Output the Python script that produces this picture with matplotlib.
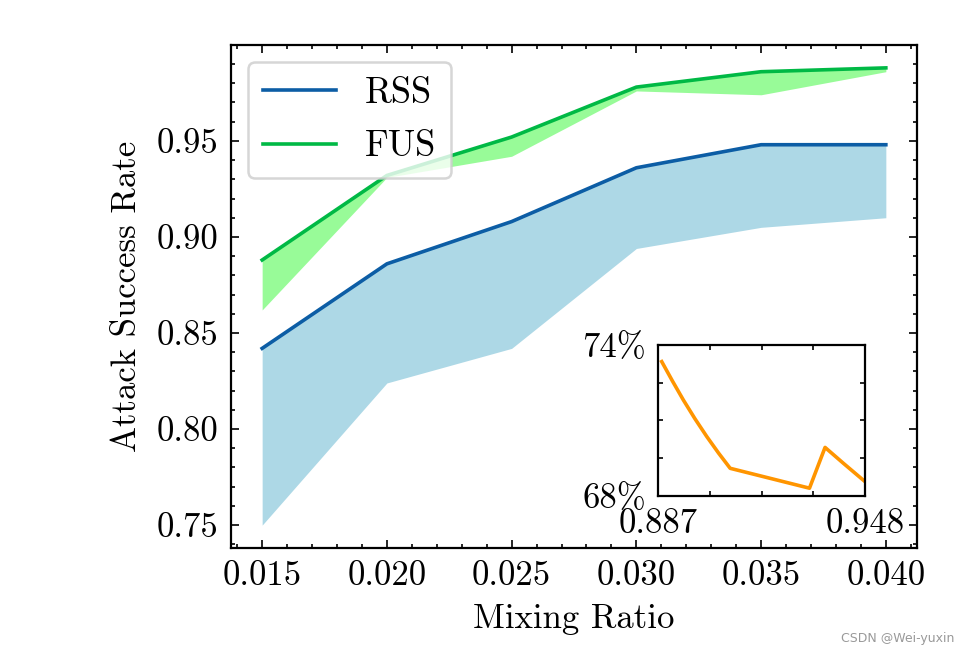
import numpy as np
import matplotlib
matplotlib.use("Agg")
import matplotlib.pyplot as plt
from matplotlib.ticker import MultipleLocator, FormatStrFormatter, FixedLocator, FixedFormatter

# ---- data ----
mixing_ratio = [0.015, 0.020, 0.025, 0.030, 0.035, 0.040]
rss_mean = [0.842, 0.886, 0.908, 0.936, 0.948, 0.948]
rss_low = [0.750, 0.824, 0.842, 0.894, 0.905, 0.910]
fus_mean = [0.888, 0.932, 0.952, 0.978, 0.986, 0.988]
fus_low = [0.862, 0.931, 0.942, 0.976, 0.974, 0.986]

inset_x = [0.888, 0.8912, 0.8944, 0.8978, 0.9013, 0.9048, 0.9082, 0.9316, 0.9362, 0.9416, 0.948]
inset_y = [0.7334, 0.7256, 0.7181, 0.7107, 0.7036, 0.6970, 0.6910, 0.6831, 0.6993, 0.6930, 0.6857]
inset_xticks = [0.887, 0.90225, 0.9175, 0.93275, 0.948]
inset_xlabels = ["0.887", "", "", "", "0.948"]
inset_yticks = [0.68, 0.695, 0.71, 0.725, 0.74]
inset_ylabels = ["68%", "", "", "", "74%"]

plt.rcParams.update({
    "font.family": ["cmr10", "DejaVu Serif"],
    "mathtext.fontset": "cm",
    "axes.unicode_minus": False,
    "axes.formatter.use_mathtext": True,
    "font.size": 25,
})

fig = plt.figure(figsize=(9.66, 6.6), dpi=100)
ax = fig.add_axes([0.2391, 0.1697, 0.7102, 0.7621])

ax.fill_between(mixing_ratio, rss_low, rss_mean, color="#ADD8E6", linewidth=0)
ax.fill_between(mixing_ratio, fus_low, fus_mean, color="#98FB98", linewidth=0)
ax.plot(mixing_ratio, rss_mean, color="#0C5DA5", lw=2.6, label="RSS")
ax.plot(mixing_ratio, fus_mean, color="#00B945", lw=2.6, label="FUS")

ax.set_xlim(0.01375, 0.04125)
ax.set_ylim(0.7381, 0.9999)
ax.xaxis.set_major_locator(MultipleLocator(0.005))
ax.xaxis.set_minor_locator(MultipleLocator(0.001))
ax.yaxis.set_major_locator(MultipleLocator(0.05))
ax.yaxis.set_minor_locator(MultipleLocator(0.01))
ax.xaxis.set_major_formatter(FormatStrFormatter("%.3f"))
ax.yaxis.set_major_formatter(FormatStrFormatter("%.2f"))
ax.tick_params(which="both", direction="in", top=True, right=True, width=1.2)
ax.tick_params(which="major", length=6, pad=9, labelsize=25)
ax.tick_params(which="minor", length=3)
for s in ax.spines.values():
    s.set_linewidth(1.6)

ax.set_xlabel("Mixing Ratio", fontsize=25, labelpad=8)
ax.set_ylabel("Attack Success Rate", fontsize=25, labelpad=10)

leg = ax.legend(loc="upper left", fontsize=26.3, frameon=True, fancybox=True,
                edgecolor="0.8", framealpha=0.8, labelspacing=0.55,
                borderaxespad=0.47)
leg.get_frame().set_linewidth(1.8)

# inset
axin = fig.add_axes([0.6815, 0.2485, 0.214, 0.2288])
axin.plot(inset_x, inset_y, color="#FF9500", lw=2.6)
axin.set_xlim(0.887, 0.948)
axin.set_ylim(0.68, 0.74)
axin.xaxis.set_major_locator(FixedLocator(inset_xticks))
axin.xaxis.set_major_formatter(FixedFormatter(inset_xlabels))
axin.yaxis.set_major_locator(FixedLocator(inset_yticks))
axin.yaxis.set_major_formatter(FixedFormatter(inset_ylabels))
axin.minorticks_off()
axin.tick_params(which="major", direction="in", top=True, right=True,
                 length=3.5, width=1.2, pad=9, labelsize=25)
for s in axin.spines.values():
    s.set_linewidth(1.6)

fig.text(0.988, 0.022, "CSDN @Wei-yuxin", ha="right", va="bottom",
         fontsize=9, color="#999999", family="DejaVu Sans")

fig.savefig("out.png", dpi=100)
